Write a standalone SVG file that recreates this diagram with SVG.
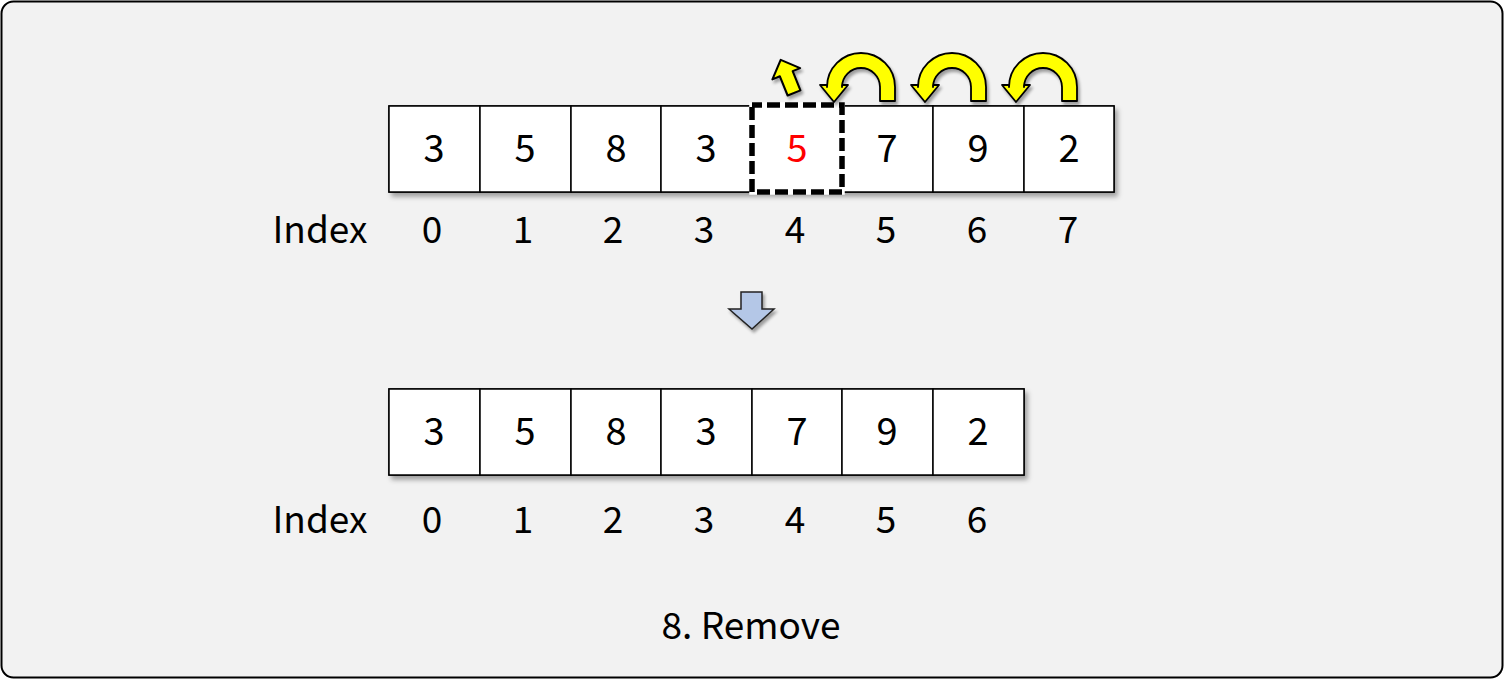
<svg xmlns="http://www.w3.org/2000/svg" width="1504" height="679" viewBox="0 0 1504 679">
<defs>
<filter id="sh" x="-10%" y="-10%" width="130%" height="140%">
<feDropShadow dx="3" dy="4" stdDeviation="2.5" flood-color="#000" flood-opacity="0.35"/>
</filter>
<filter id="sh2" x="-30%" y="-30%" width="160%" height="160%">
<feDropShadow dx="2" dy="3" stdDeviation="1.5" flood-color="#000" flood-opacity="0.35"/>
</filter>
<path id="uarrow" d="M 880 101 L 880 87 A 19 19 0 0 0 842 87 L 842 85 L 848 85 L 834 102 L 820 85 L 827 85 L 827 87 A 34 34 0 0 1 895 87 L 895 101 Z"/>
</defs>
<style>
.cell{fill:#fff;stroke:#000;stroke-width:1.5}
.t{font-family:"Noto Sans CJK JP","Noto Sans",sans-serif;fill:#000;text-anchor:middle}
.v{font-size:38px}
.i{font-size:37px}
.ya{fill:#ffff00;stroke:#000;stroke-width:1.8;stroke-linejoin:round}
</style>
<rect x="1.5" y="1.5" width="1501" height="676" rx="12" fill="#f2f2f2" stroke="#000" stroke-width="2"/>

<g id="row1">
<g filter="url(#sh)">
<rect class="cell" x="389" y="106" width="725" height="86"/>
</g>
<g id="r1c0"><rect class="cell" x="389" y="106" width="91" height="86"/><text class="t v" x="434" y="162">3</text></g>
<g id="r1c1"><rect class="cell" x="480" y="106" width="91" height="86"/><text class="t v" x="525" y="162">5</text></g>
<g id="r1c2"><rect class="cell" x="571" y="106" width="90" height="86"/><text class="t v" x="616" y="162">8</text></g>
<g id="r1c3"><rect class="cell" x="661" y="106" width="91" height="86"/><text class="t v" x="706" y="162">3</text></g>
<g id="r1c4"><rect class="cell" x="752" y="106" width="90" height="86"/><text class="t v" x="797" y="162" style="fill:#ff0000">5</text></g>
<g id="r1c5"><rect class="cell" x="842" y="106" width="91" height="86"/><text class="t v" x="887" y="162">7</text></g>
<g id="r1c6"><rect class="cell" x="933" y="106" width="91" height="86"/><text class="t v" x="978" y="162">9</text></g>
<g id="r1c7"><rect class="cell" x="1024" y="106" width="90" height="86"/><text class="t v" x="1069" y="162">2</text></g>
<g id="sel">
<rect x="752" y="105" width="90" height="87" fill="none" stroke="#fff" stroke-width="5.5"/>
<rect x="752" y="105" width="90" height="87" fill="none" stroke="#000" stroke-width="5.5" stroke-dasharray="13 5" stroke-dashoffset="3"/>
</g>
</g>

<g id="idx1">
<text class="t i" x="320" y="243">Index</text>
<text class="t i" x="432" y="243">0</text>
<text class="t i" x="523" y="243">1</text>
<text class="t i" x="613" y="243">2</text>
<text class="t i" x="704" y="243">3</text>
<text class="t i" x="795" y="243">4</text>
<text class="t i" x="886" y="243">5</text>
<text class="t i" x="977" y="243">6</text>
<text class="t i" x="1068" y="243">7</text>
</g>

<g id="connectors">
<g filter="url(#sh2)">
<use href="#uarrow" class="ya"/>
<use href="#uarrow" class="ya" transform="translate(91,0)"/>
<use href="#uarrow" class="ya" transform="translate(182,0)"/>
<path class="ya" transform="translate(788,78) rotate(-22) scale(1.15)" d="M 0 -17 L 13 -4 L 6 -4 L 6 14 L -6 14 L -6 -4 L -13 -4 Z"/>
<path d="M 741 292 L 762 292 L 762 309 L 774 309 L 752 329 L 729 309 L 741 309 Z" fill="#b4c7e7" stroke="#222" stroke-width="1.5" stroke-linejoin="miter"/>
</g>
</g>

<g id="row2">
<g filter="url(#sh)">
<rect class="cell" x="389" y="389" width="635" height="86"/>
</g>
<g id="r2c0"><rect class="cell" x="389" y="389" width="91" height="86"/><text class="t v" x="434" y="445">3</text></g>
<g id="r2c1"><rect class="cell" x="480" y="389" width="91" height="86"/><text class="t v" x="525" y="445">5</text></g>
<g id="r2c2"><rect class="cell" x="571" y="389" width="90" height="86"/><text class="t v" x="616" y="445">8</text></g>
<g id="r2c3"><rect class="cell" x="661" y="389" width="91" height="86"/><text class="t v" x="706" y="445">3</text></g>
<g id="r2c4"><rect class="cell" x="752" y="389" width="90" height="86"/><text class="t v" x="797" y="445">7</text></g>
<g id="r2c5"><rect class="cell" x="842" y="389" width="91" height="86"/><text class="t v" x="887" y="445">9</text></g>
<g id="r2c6"><rect class="cell" x="933" y="389" width="91" height="86"/><text class="t v" x="978" y="445">2</text></g>
</g>

<g id="idx2">
<text class="t i" x="320" y="533">Index</text>
<text class="t i" x="432" y="533">0</text>
<text class="t i" x="523" y="533">1</text>
<text class="t i" x="613" y="533">2</text>
<text class="t i" x="704" y="533">3</text>
<text class="t i" x="795" y="533">4</text>
<text class="t i" x="886" y="533">5</text>
<text class="t i" x="977" y="533">6</text>
</g>

<g id="caption">
<text class="t i" x="751" y="639">8. Remove</text>
</g>
</svg>
